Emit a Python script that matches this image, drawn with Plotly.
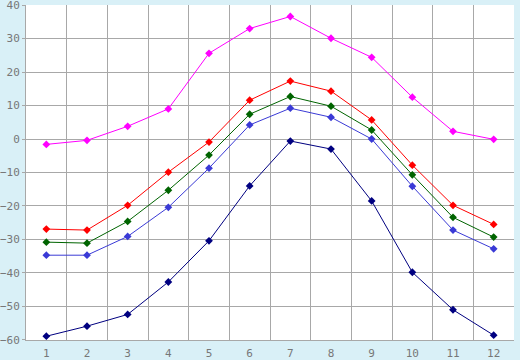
import plotly.graph_objects as go

months = [1, 2, 3, 4, 5, 6, 7, 8, 9, 10, 11, 12]
y_ticks = [-60, -50, -40, -30, -20, -10, 0, 10, 20, 30, 40]
magenta_vals = [-1.6, -0.4, 3.8, 9.0, 25.6, 33.0, 36.6, 30.1, 24.4, 12.5, 2.3, -0.1]
red_vals = [-26.9, -27.2, -19.8, -9.9, -0.9, 11.6, 17.3, 14.3, 5.7, -7.8, -19.8, -25.5]
green_vals = [-30.8, -31.1, -24.6, -15.3, -4.8, 7.4, 12.7, 9.8, 2.7, -10.7, -23.4, -29.3]
blue_vals = [-34.7, -34.7, -29.1, -20.4, -8.7, 4.2, 9.2, 6.5, 0.0, -14.1, -27.2, -32.8]
navy_vals = [-58.9, -55.9, -52.4, -42.7, -30.4, -14.0, -0.6, -3.0, -18.5, -39.8, -51.0, -58.6]

series = [
    (magenta_vals, "#ff00ff"),
    (red_vals, "#ff0000"),
    (green_vals, "#006400"),
    (blue_vals, "#3a3ad6"),
    (navy_vals, "#000080"),
]

fig = go.Figure()
for vals, col in series:
    fig.add_trace(go.Scatter(
        x=months, y=vals, mode="lines+markers",
        line=dict(color=col, width=1),
        marker=dict(symbol="diamond", size=6, color=col),
        showlegend=False, cliponaxis=False,
    ))

fig.update_layout(
    width=520, height=360,
    margin=dict(l=26, r=6, t=5, b=20, autoexpand=False),
    paper_bgcolor="#d9f0f7",
    plot_bgcolor="#ffffff",
    font=dict(family="DejaVu Sans Mono", size=11, color="#777777"),
    xaxis=dict(
        range=[0.5, 12.5], tickvals=months, ticktext=[str(m) for m in months],
        showgrid=False, zeroline=False, showline=True, linecolor="#a8a8a8",
        ticks="", ticklen=0, automargin=False, ticklabelstandoff=3,
        ticklabeloverflow="allow",
        minor=dict(tickvals=[m + 0.5 for m in months[:-1]], showgrid=True,
                   gridcolor="#a8a8a8", gridwidth=1),
    ),
    yaxis=dict(
        range=[-60.03, 40.03], tickvals=y_ticks, showgrid=True, gridcolor="#a8a8a8",
        zeroline=False, showline=True, linecolor="#a8a8a8", automargin=False,
        ticks="outside", ticklen=3, tickcolor="#a8a8a8",
        ticklabeloverflow="allow",
    ),
)

fig.write_html("out.html", config={"displayModeBar": False},
               post_script="document.body.style.margin='0';")
